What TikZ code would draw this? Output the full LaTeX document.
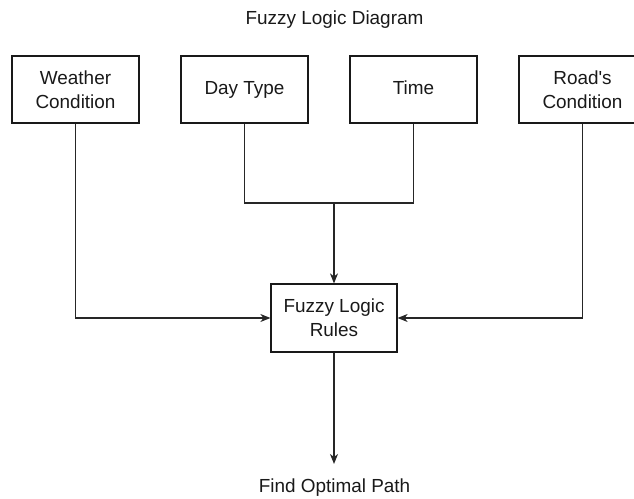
\documentclass[tikz,border=0pt]{standalone}
\usepackage{fontspec}
% plain font, without the TeX quote mapping, so ' stays a straight apostrophe
\defaultfontfeatures[\rmfamily,\sffamily]{}
\setmainfont{Liberation Sans}
\usetikzlibrary{arrows.meta}
\begin{document}
\begin{tikzpicture}[x=1bp,y=-1bp,
  every node/.style={font=\fontsize{19}{24}\selectfont, text=black!90},
  box/.style={draw=black!90, line width=1.2bp, minimum width=127bp, minimum height=67bp,
    inner sep=0pt, align=center},
  link/.style={draw=black!85, line width=1.2bp},
  arr/.style={link, -{Stealth[length=10bp,width=8bp,inset=3bp]}}]
\useasboundingbox (0,0) rectangle (634,499);
\clip (0,0) rectangle (634,499);

% title
\node (title) at (334.5,20) {Fuzzy Logic Diagram};

% input variables
\node[box] (weather) at (75.5,89.5) {Weather\\Condition};
\node[box] (daytype) at (244.5,89.5) {Day Type};
\node[box] (time)    at (413.5,89.5) {\vphantom{Dy}Time};
\node[box] (road)    at (582.5,89.5) {Road's\\Condition};

% rule block
\node[box, minimum width=126bp, minimum height=68bp] (rules) at (334,318) {Fuzzy Logic\\Rules};

% output label
\node[inner xsep=0pt, inner ysep=15bp] (result) at (334.5,488) {Find Optimal Path};

% connectors
\coordinate (join) at (334,203);
\draw[link] (daytype.south) |- (join) -| (time.south);
\draw[arr] (join) -- (join |- rules.north);
\draw[arr] (weather.south) |- (rules.west);
\draw[arr] (road.south) |- (rules.east);
\draw[arr] (rules.south) -- (rules.south |- result.north);
\end{tikzpicture}
\end{document}
